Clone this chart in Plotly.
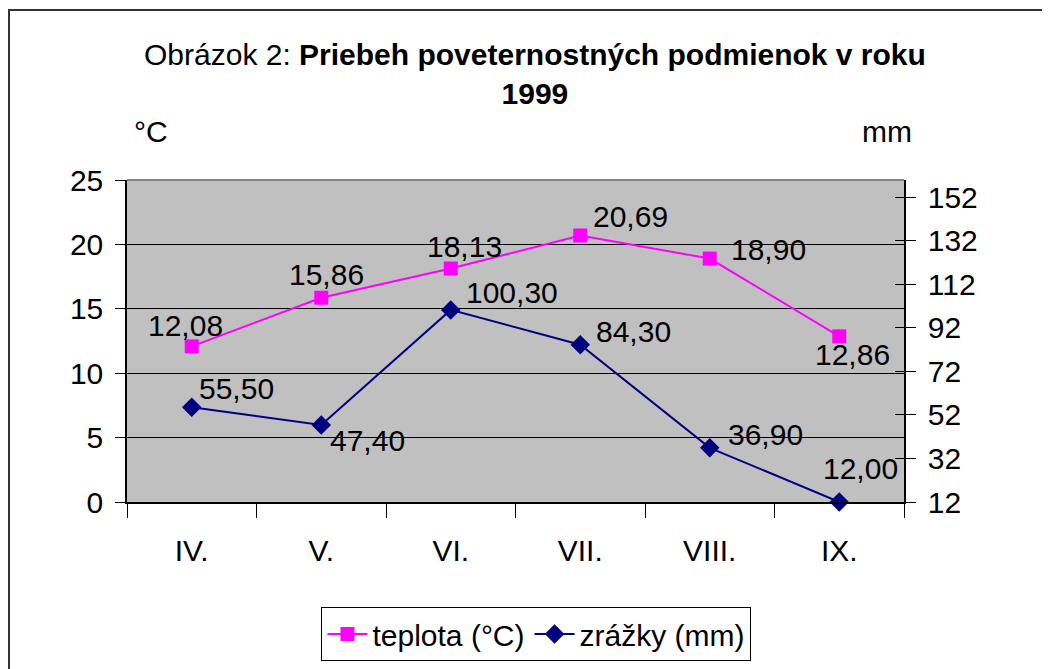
import plotly.graph_objects as go

months = ["IV.", "V.", "VI.", "VII.", "VIII.", "IX."]
teplota = [12.08, 15.86, 18.13, 20.69, 18.90, 12.86]
zrazky = [55.50, 47.40, 100.30, 84.30, 36.90, 12.00]
left_ticks = [0, 5, 10, 15, 20, 25]
right_ticks = [12, 32, 52, 72, 92, 112, 132, 152]

# label offsets in pixels (dx, dy) relative to each point
teplota_off = [(-6, 21), (5, 23), (14, 22), (50, 19), (59, 9), (13, -18)]
zrazky_off = [(45, 19), (46, -16), (61, 17), (53, 13), (56, 13), (21, 34)]

FONT = "Arial, Liberation Sans, sans-serif"
FS = 30

def fmt(v):
    return f"{v:.2f}".replace(".", ",")

fig = go.Figure()
fig.add_trace(go.Scatter(
    x=months, y=teplota, name="teplota (°C)", mode="lines+markers",
    line=dict(color="#FF00FF", width=2),
    marker=dict(symbol="square", size=14, color="#FF00FF"),
    yaxis="y", cliponaxis=False))
fig.add_trace(go.Scatter(
    x=months, y=zrazky, name="zrážky (mm)", mode="lines+markers",
    line=dict(color="#000080", width=2),
    marker=dict(symbol="diamond", size=15, color="#000080"),
    yaxis="y2", cliponaxis=False))

ann = []
for m, v, (dx, dy) in zip(months, teplota, teplota_off):
    ann.append(dict(x=m, y=v, xref="x", yref="y", text=fmt(v), showarrow=False,
                    xshift=dx, yshift=dy, font=dict(size=FS, color="black", family=FONT)))
for m, v, (dx, dy) in zip(months, zrazky, zrazky_off):
    ann.append(dict(x=m, y=v, xref="x", yref="y2", text=fmt(v), showarrow=False,
                    xshift=dx, yshift=dy, font=dict(size=FS, color="black", family=FONT)))

# title and unit labels
ann.append(dict(x=0.5257, y=1.329, xref="paper", yref="paper", showarrow=False,
                text="Obrázok 2: <b>Priebeh poveternostných podmienok v roku</b><br><b>1999</b>",
                font=dict(size=FS, color="black", family=FONT), xanchor="center", yanchor="middle"))
ann.append(dict(x=(151 - 127) / 777, y=(502 - 132) / 322, xref="paper", yref="paper", showarrow=False,
                text="°C", font=dict(size=FS, color="black", family=FONT), xanchor="center", yanchor="middle"))
ann.append(dict(x=(887 - 127) / 777, y=(502 - 132) / 322, xref="paper", yref="paper", showarrow=False,
                text="mm", font=dict(size=FS, color="black", family=FONT), xanchor="center", yanchor="middle"))

shapes = [
    # outer chart border
    dict(type="rect", xref="paper", yref="paper",
         x0=(9 - 127) / 777, x1=(1070 - 127) / 777, y0=(502 - 690) / 322, y1=(502 - 10) / 322,
         line=dict(color="#333333", width=2), layer="below"),
    # top plot border
    dict(type="line", xref="paper", yref="paper", x0=0, x1=1, y0=1, y1=1,
         line=dict(color="#808080", width=2), layer="above"),
]

fig.update_layout(
    width=1042, height=661,
    margin=dict(l=119, r=146, t=172, b=167, autoexpand=False),
    paper_bgcolor="white", plot_bgcolor="#C0C0C0",
    font=dict(family=FONT, size=FS, color="black"),
    showlegend=True,
    legend=dict(orientation="h", x=0.527, xanchor="center", y=(502 - 607) / 322, yanchor="top",
                bgcolor="white", bordercolor="black", borderwidth=1,
                font=dict(size=FS, family=FONT, color="black"), itemwidth=40),
    xaxis=dict(type="category", range=[-0.5, 5.5], tickson="boundaries", ticks="outside",
               ticklen=14, tickcolor="black", tickwidth=1, showline=True, linecolor="black",
               linewidth=1.5, showgrid=False, tickfont=dict(size=FS), ticklabelstandoff=21),
    yaxis=dict(range=[0, 25], tickvals=left_ticks, ticks="outside", ticklen=10, tickcolor="black",
               showline=True, linecolor="black", linewidth=1.5, showgrid=True, gridcolor="black",
               gridwidth=1, zeroline=False, tickfont=dict(size=FS), ticklabelstandoff=6),
    yaxis2=dict(range=[12, 160], tickvals=right_ticks, overlaying="y", side="right",
                ticks="outside", ticklen=10, tickcolor="black", showline=True, linecolor="black",
                linewidth=1.5, showgrid=False, zeroline=False, tickfont=dict(size=FS),
                ticklabelstandoff=6),
    yaxis3=dict(range=[12, 160], tickvals=right_ticks, overlaying="y", side="right",
                ticks="inside", ticklen=9, tickcolor="black", showline=False, showgrid=False,
                zeroline=False, showticklabels=False),
    annotations=ann, shapes=shapes,
)
# invisible trace to activate yaxis3 (crossing ticks on the right axis)
fig.add_trace(go.Scatter(x=[months[0]], y=[right_ticks[0]], yaxis="y3", mode="markers",
                         marker=dict(opacity=0), showlegend=False, hoverinfo="skip"))

fig.write_html("out.html")
